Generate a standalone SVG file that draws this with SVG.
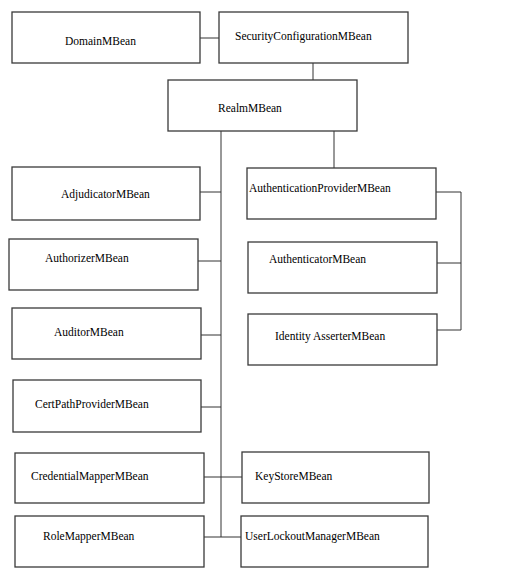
<svg xmlns="http://www.w3.org/2000/svg" width="512" height="576" viewBox="0 0 512 576">
<style>
.box{fill:#fff;stroke:#3a3a3a;stroke-width:1.3}
.lbl{font-family:'Liberation Serif','Times New Roman','DejaVu Serif',serif;font-size:11.5px;fill:#000}
.con{fill:none;stroke:#333;stroke-width:1}
</style>
<rect width="512" height="576" fill="#fff"/>
<g id="connectors">
<path class="con" d="M200 38H219"/>
<path class="con" d="M313 63V80"/>
<path class="con" d="M221 131V537"/>
<path class="con" d="M334 131V168"/>
<path class="con" d="M200 192H221"/>
<path class="con" d="M198 261H221"/>
<path class="con" d="M201 335H221"/>
<path class="con" d="M201 407H221"/>
<path class="con" d="M204 477H242"/>
<path class="con" d="M204 537H241"/>
<path class="con" d="M436 192H461V330H437"/>
<path class="con" d="M437 263H461"/>
</g>
<g id="domain"><rect class="box" x="12" y="12" width="188" height="51"/><text class="lbl" x="65" y="45" font-family="Liberation Serif, serif">DomainMBean</text></g>
<g id="securityConfiguration"><rect class="box" x="219" y="12" width="189" height="51"/><text class="lbl" x="235" y="40">SecurityConfigurationMBean</text></g>
<g id="realm"><rect class="box" x="168" y="80" width="189" height="51"/><text class="lbl" x="218" y="112">RealmMBean</text></g>
<g id="adjudicator"><rect class="box" x="12" y="167" width="188" height="53"/><text class="lbl" x="61" y="198">AdjudicatorMBean</text></g>
<g id="authorizer"><rect class="box" x="9" y="239" width="189" height="51"/><text class="lbl" x="45" y="262">AuthorizerMBean</text></g>
<g id="auditor"><rect class="box" x="12" y="308" width="189" height="51"/><text class="lbl" x="54" y="336">AuditorMBean</text></g>
<g id="certPathProvider"><rect class="box" x="13" y="380" width="188" height="52"/><text class="lbl" x="35" y="408">CertPathProviderMBean</text></g>
<g id="credentialMapper"><rect class="box" x="15" y="453" width="189" height="50"/><text class="lbl" x="31" y="480">CredentialMapperMBean</text></g>
<g id="roleMapper"><rect class="box" x="15" y="516" width="189" height="51"/><text class="lbl" x="43" y="540">RoleMapperMBean</text></g>
<g id="authenticationProvider"><rect class="box" x="247" y="168" width="189" height="51"/><text class="lbl" x="249" y="192">AuthenticationProviderMBean</text></g>
<g id="authenticator"><rect class="box" x="248" y="242" width="189" height="51"/><text class="lbl" x="269" y="263">AuthenticatorMBean</text></g>
<g id="identityAsserter"><rect class="box" x="248" y="314" width="189" height="51"/><text class="lbl" x="275" y="340">Identity AsserterMBean</text></g>
<g id="keyStore"><rect class="box" x="242" y="452" width="187" height="51"/><text class="lbl" x="255" y="480">KeyStoreMBean</text></g>
<g id="userLockoutManager"><rect class="box" x="241" y="516" width="187" height="51"/><text class="lbl" x="245" y="540">UserLockoutManagerMBean</text></g>
</svg>
